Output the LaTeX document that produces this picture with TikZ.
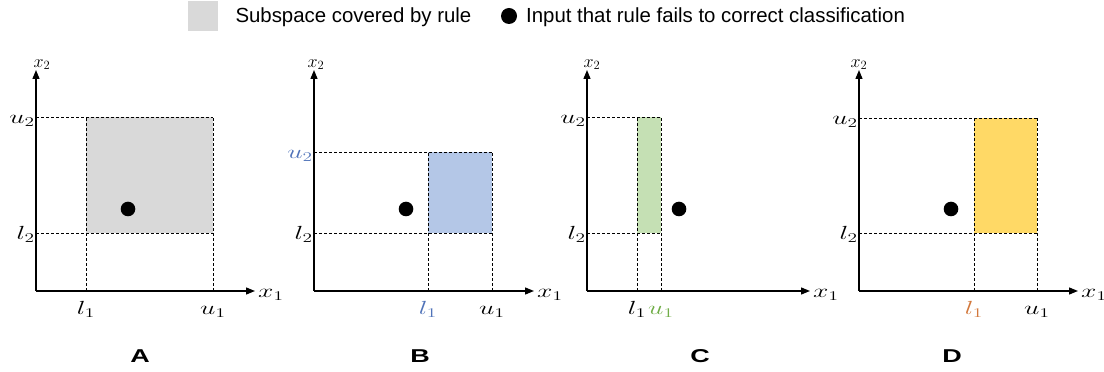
\RequirePackage{fix-cm}
\documentclass[tikz,border=0pt]{standalone}
\usepackage{fontspec}
\usepackage{tikz}
\usepackage{xcolor}
\usetikzlibrary{arrows.meta, positioning}
\newfontfamily\arialfont{Liberation Sans}
\newcommand{\stretchlab}[1]{\scalebox{1.45}[1]{#1}}
\definecolor{cGrey}{HTML}{D9D9D9}
\definecolor{cBlue}{HTML}{B4C7E7}
\definecolor{cGreen}{HTML}{C5E0B4}
\definecolor{cGold}{HTML}{FFD966}
\definecolor{tBlue}{RGB}{80,115,185}
\definecolor{tGreen}{RGB}{112,173,71}
\definecolor{tOrange}{RGB}{210,120,60}
\tikzset{
	axis/.style   ={line width=1.3pt, -{Triangle[length=9pt, width=7pt]}},
	guide/.style  ={line width=0.9pt, dash pattern=on 3pt off 2pt},
	mlab/.style   ={font=\fontsize{19}{22}\selectfont, inner sep=0pt},
	toplab/.style ={font=\fontsize{18}{21}\selectfont, inner sep=0pt, anchor=south},
	dot/.style    ={circle, fill=black, minimum size=14.6pt, inner sep=0pt},
	letter/.style ={font=\arialfont\bfseries\fontsize{18.6}{22}\selectfont, anchor=base},
	legtext/.style={font=\arialfont\fontsize{20.4}{24}\selectfont, anchor=base west, inner sep=0pt},
}
\begin{document}
\begin{tikzpicture}[x=1pt, y=1pt]
\useasboundingbox (0,0) rectangle (1104,372);
% legend
\node[fill=cGrey, minimum width=30.5pt, minimum height=30pt, inner sep=0pt] (legbox) at (203,356) {};
\node[legtext] (legsub) at (235.3,349) {Subspace covered by rule};
\node[dot, minimum size=16pt] (legdot) at (509,356) {};
\node[legtext] (leginp) at (526,349) {Input that rule fails to correct classification};

% panel A
\begin{scope}[shift={(36,81)}]
	\fill[cGrey] (50,58) rectangle (177,174);
	\coordinate (oA) at (0,0);
	\coordinate (xA) at (219,0);
	\coordinate (yA) at (0,221);
	\draw[guide] (0,174) -- (177,174);
	\draw[guide] (0,58) -- (177,58);
	\draw[guide] (50,0) -- (50,174);
	\draw[guide] (177,0) -- (177,174);
	\draw[axis] (oA) -- (xA);
	\draw[axis] (oA) -- (yA);
	\node[mlab, anchor=base west] (x1A) at ([xshift=3pt, yshift=-7pt]xA) {\stretchlab{$x_1$}};
	\node[toplab] (x2A) at ([xshift=6pt]yA) {$x_2$};
	\node[mlab, anchor=base east] (u2A) at (-1,167) {\stretchlab{$u_2$}};
	\node[mlab, anchor=base east] (l2A) at (-1,51) {\stretchlab{$l_2$}};
	\node[mlab, anchor=base] (l1A) at (50,-24) {\stretchlab{$l_1$}};
	\node[mlab, anchor=base] (u1A) at (177,-24) {\stretchlab{$u_1$}};
	\node[dot] (pA) at (92,82) {};
	\node[letter] (labA) at (104,-72) {\stretchlab{A}};
\end{scope}

% panel B
\begin{scope}[shift={(314,81)}]
	\fill[cBlue] (114,58) rectangle (178,139);
	\coordinate (oB) at (0,0);
	\coordinate (xB) at (220,0);
	\coordinate (yB) at (0,221);
	\draw[guide] (0,139) -- (178,139);
	\draw[guide] (0,58) -- (178,58);
	\draw[guide] (114,0) -- (114,139);
	\draw[guide] (178,0) -- (178,139);
	\draw[axis] (oB) -- (xB);
	\draw[axis] (oB) -- (yB);
	\node[mlab, anchor=base west] (x1B) at ([xshift=3pt, yshift=-7pt]xB) {\stretchlab{$x_1$}};
	\node[toplab] (x2B) at ([xshift=2pt]yB) {$x_2$};
	\node[mlab, anchor=base east, tBlue] (u2B) at (-1,132) {\stretchlab{$u_2$}};
	\node[mlab, anchor=base east] (l2B) at (-1,51) {\stretchlab{$l_2$}};
	\node[mlab, anchor=base, tBlue] (l1B) at (114,-24) {\stretchlab{$l_1$}};
	\node[mlab, anchor=base] (u1B) at (178,-24) {\stretchlab{$u_1$}};
	\node[dot] (pB) at (92,82) {};
	\node[letter] (labB) at (106,-72) {\stretchlab{B}};
\end{scope}

% panel C
\begin{scope}[shift={(587,81)}]
	\fill[cGreen] (50,58) rectangle (74,174);
	\coordinate (oC) at (0,0);
	\coordinate (xC) at (223,0);
	\coordinate (yC) at (0,221);
	\draw[guide] (0,174) -- (74,174);
	\draw[guide] (0,58) -- (74,58);
	\draw[guide] (50,0) -- (50,174);
	\draw[guide] (74,0) -- (74,174);
	\draw[axis] (oC) -- (xC);
	\draw[axis] (oC) -- (yC);
	\node[mlab, anchor=base west] (x1C) at ([xshift=3pt, yshift=-7pt]xC) {\stretchlab{$x_1$}};
	\node[toplab] (x2C) at ([xshift=5pt]yC) {$x_2$};
	\node[mlab, anchor=base east] (u2C) at (-1,167) {\stretchlab{$u_2$}};
	\node[mlab, anchor=base east] (l2C) at (-1,51) {\stretchlab{$l_2$}};
	\node[mlab, anchor=base] (l1C) at (50,-24) {\stretchlab{$l_1$}};
	\node[mlab, anchor=base, tGreen] (u1C) at (74,-24) {\stretchlab{$u_1$}};
	\node[dot] (pC) at (92,82) {};
	\node[letter] (labC) at (113,-72) {\stretchlab{C}};
\end{scope}

% panel D
\begin{scope}[shift={(859,81)}]
	\fill[cGold] (115,58) rectangle (178,173);
	\coordinate (oD) at (0,0);
	\coordinate (xD) at (219,0);
	\coordinate (yD) at (0,221);
	\draw[guide] (0,173) -- (178,173);
	\draw[guide] (0,58) -- (178,58);
	\draw[guide] (115,0) -- (115,173);
	\draw[guide] (178,0) -- (178,173);
	\draw[axis] (oD) -- (xD);
	\draw[axis] (oD) -- (yD);
	\node[mlab, anchor=base west] (x1D) at ([xshift=3pt, yshift=-7pt]xD) {\stretchlab{$x_1$}};
	\node[toplab] (x2D) at (yD) {$x_2$};
	\node[mlab, anchor=base east] (u2D) at (-1,166) {\stretchlab{$u_2$}};
	\node[mlab, anchor=base east] (l2D) at (-1,51) {\stretchlab{$l_2$}};
	\node[mlab, anchor=base, tOrange] (l1D) at (115,-24) {\stretchlab{$l_1$}};
	\node[mlab, anchor=base] (u1D) at (178,-24) {\stretchlab{$u_1$}};
	\node[dot] (pD) at (92,82) {};
	\node[letter] (labD) at (93,-72) {\stretchlab{D}};
\end{scope}
\end{tikzpicture}
\end{document}
